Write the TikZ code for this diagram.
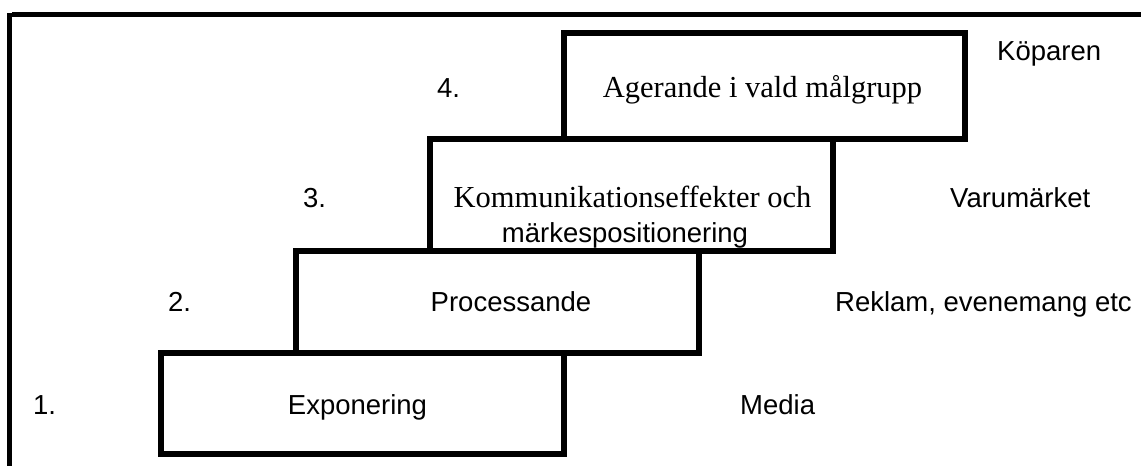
\documentclass[tikz,border=0pt]{standalone}
\usepackage{fontspec}
\setmainfont{Liberation Serif}
\setsansfont{Liberation Sans}
\begin{document}
\begin{tikzpicture}[x=1pt,y=-1pt,
  stepbox/.style={draw=black,line width=6pt,rectangle,inner sep=0pt,outer sep=0pt},
  frameline/.style={line width=5pt},
  sanslabel/.style={font=\sffamily\fontsize{27.5}{33}\selectfont,inner sep=0pt},
  seriflabel/.style={font=\rmfamily\fontsize{30.5}{36}\selectfont,inner sep=0pt}]
\useasboundingbox (0,0) rectangle (1141,466);
% frame
\coordinate (fl1) at (9.5,13);
\coordinate (fl2) at (9.5,466);
\coordinate (ft1) at (12,14.5);
\coordinate (ft2) at (1141,14.5);
\draw[frameline] (fl1) -- (fl2);
\draw[frameline] (ft1) -- (ft2);
% boxes
\node[stepbox,minimum width=403pt,minimum height=101pt] (exp) at (362.5,403.5) {};
\node[stepbox,minimum width=403pt,minimum height=102pt] (proc) at (497.5,302) {};
\node[stepbox,minimum width=403pt,minimum height=112pt] (komm) at (631.5,195) {};
\node[stepbox,minimum width=401pt,minimum height=106pt] (ag) at (764.5,86) {};
% box texts
\node[sanslabel,anchor=base] (texp) at (357.5,414) {Exponering};
\node[sanslabel,anchor=base] (tproc) at (511,311) {Processande};
\node[seriflabel,anchor=base] (tkomm1) at (632.5,207) {Kommunikationseffekter och};
\node[sanslabel,anchor=base] (tkomm2) at (625,242) {märkespositionering};
\node[seriflabel,anchor=base] (tag) at (762.5,97) {Agerande i vald målgrupp};
% numbers
\node[sanslabel,anchor=base west] (n1) at (33,414) {1.};
\node[sanslabel,anchor=base west] (n2) at (168,311) {2.};
\node[sanslabel,anchor=base west] (n3) at (303,207) {3.};
\node[sanslabel,anchor=base west] (n4) at (437,97) {4.};
% right labels
\node[sanslabel,anchor=base west] (media) at (740,414) {Media};
\node[sanslabel,anchor=base west] (rek) at (835,311) {Reklam, evenemang etc};
\node[sanslabel,anchor=base west] (varu) at (950,207) {Varumärket};
\node[sanslabel,anchor=base west] (kop) at (997,60) {Köparen};
\end{tikzpicture}
\end{document}
